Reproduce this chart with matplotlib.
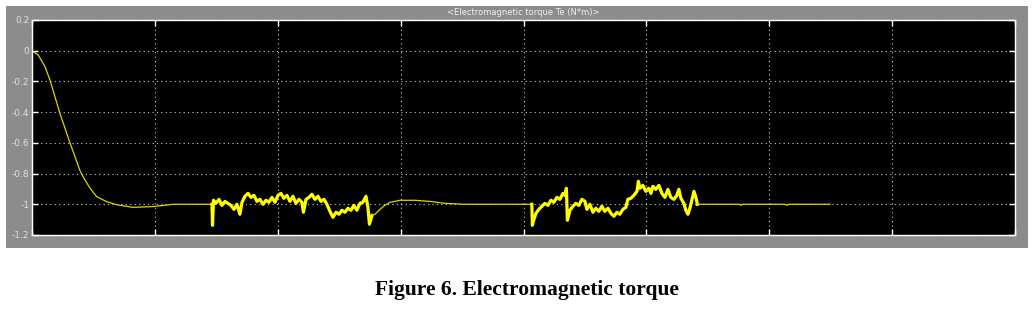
import numpy as np
import matplotlib.pyplot as plt
from matplotlib.patches import Rectangle

# Electromagnetic torque trace (time in divisions, Te in N*m)
t_start = [0.0, 0.051, 0.106, 0.146, 0.187, 0.228, 0.269, 0.309, 0.35, 0.39,
           0.431, 0.472, 0.526, 0.608, 0.69, 0.82, 0.985, 1.15, 1.465]
te_start = [0.0, -0.028, -0.104, -0.19, -0.30, -0.41, -0.505, -0.60, -0.69, -0.78,
            -0.842, -0.894, -0.95, -0.983, -1.003, -1.02, -1.015, -1.0, -1.0]

t_load1 = [1.465, 1.469, 1.477, 1.497, 1.522, 1.546, 1.570, 1.595, 1.619, 1.644,
           1.668, 1.692, 1.709, 1.733, 1.758, 1.782, 1.806, 1.831, 1.855, 1.880,
           1.904, 1.928, 1.953, 1.977, 2.002, 2.026, 2.050, 2.075, 2.099, 2.124,
           2.148, 2.173, 2.197, 2.209, 2.230, 2.254, 2.278, 2.303, 2.327, 2.352,
           2.376, 2.400, 2.425, 2.449, 2.474, 2.498, 2.522, 2.547, 2.571, 2.596,
           2.620, 2.644, 2.669, 2.693, 2.718, 2.734, 2.746, 2.767]
te_load1 = [-1.000, -1.137, -0.974, -0.994, -0.968, -1.007, -0.981, -0.994, -1.007, -1.033,
            -1.000, -1.065, -0.987, -0.948, -0.929, -0.955, -0.942, -0.981, -0.968, -1.000,
            -0.974, -0.987, -0.955, -0.987, -0.942, -0.929, -0.961, -0.942, -0.981, -0.948,
            -0.994, -0.968, -0.987, -1.052, -0.968, -0.955, -0.935, -0.968, -0.948, -0.981,
            -0.968, -1.000, -1.046, -1.085, -1.052, -1.065, -1.039, -1.052, -1.026, -1.039,
            -1.007, -1.039, -0.994, -0.987, -0.948, -1.020, -1.130, -1.072]

t_settle = [2.767, 2.791, 2.832, 2.872, 2.913, 2.954, 2.994, 3.116, 3.238, 3.360, 3.523, 4.068]
te_settle = [-1.072, -1.065, -1.033, -1.007, -0.987, -0.981, -0.974, -0.974, -0.981, -0.994, -1.0, -1.0]

t_load2 = [4.068, 4.072, 4.080, 4.101, 4.125, 4.150, 4.174, 4.199, 4.223, 4.247,
           4.272, 4.296, 4.321, 4.337, 4.349, 4.357, 4.378, 4.402, 4.426, 4.451,
           4.475, 4.500, 4.516, 4.540, 4.565, 4.589, 4.613, 4.638, 4.662, 4.687,
           4.711, 4.736, 4.760, 4.784, 4.809, 4.833, 4.849, 4.874, 4.898, 4.923,
           4.935, 4.947, 4.971, 4.996, 5.020, 5.037, 5.053, 5.077, 5.102, 5.126,
           5.151, 5.175, 5.199, 5.224, 5.248, 5.264, 5.281, 5.305, 5.321, 5.338,
           5.354, 5.370, 5.387, 5.403, 5.415]
te_load2 = [-1.000, -1.137, -1.111, -1.059, -1.033, -1.013, -0.994, -1.007, -0.974, -0.987,
            -0.955, -0.968, -0.929, -0.942, -0.896, -1.104, -1.039, -1.013, -0.994, -1.007,
            -0.968, -0.981, -1.033, -1.000, -1.052, -1.026, -1.046, -1.013, -1.046, -1.026,
            -1.059, -1.078, -1.052, -1.065, -1.033, -1.020, -0.968, -0.961, -0.942, -0.916,
            -0.850, -0.896, -0.877, -0.916, -0.896, -0.929, -0.883, -0.903, -0.877, -0.929,
            -0.955, -0.903, -0.955, -0.968, -0.942, -0.903, -0.961, -0.994, -1.039, -1.065,
            -1.026, -0.974, -0.916, -0.955, -1.000]

t_end = [5.415, 5.76, 5.769, 5.78, 6.13, 6.143, 6.155, 6.493]
te_end = [-1.0, -1.0, -1.007, -1.0, -1.0, -1.007, -1.0, -1.0]

yticks = [0.2, 0, -0.2, -0.4, -0.6, -0.8, -1, -1.2]
ytick_labels = ["0.2", "0", "-0.2", "-0.4", "-0.6", "-0.8", "-1", "-1.2"]

fig = plt.figure(figsize=(10.35, 3.09), dpi=100)
fig.patch.set_facecolor("white")

# gray scope panel behind the axes
fig.patches.append(Rectangle((0.0058, 0.1974), 0.9874, 0.7832, transform=fig.transFigure,
                             facecolor="#8c8c8c", edgecolor="none", zorder=-10))

ax = fig.add_axes([0.0309, 0.2395, 0.9498, 0.6958])
ax.set_facecolor("black")
ax.set_xlim(0, 8)
ax.set_ylim(-1.2, 0.2)

thin = "#d8d800"
bright = "#ffff00"
ax.plot(t_start, te_start, color=thin, lw=0.9)
ax.plot(t_load1, te_load1, color=bright, lw=2.3)
ax.plot(t_settle, te_settle, color=thin, lw=0.9)
ax.plot(t_load2, te_load2, color=bright, lw=2.3)
ax.plot(t_end, te_end, color=thin, lw=0.9)

ax.set_xticks(np.arange(0, 9, 1))
ax.set_xticklabels([])
ax.set_yticks(yticks)
ax.set_yticklabels(ytick_labels, fontsize=6.5)
ax.tick_params(axis="both", direction="in", colors="white", length=4, width=1,
               top=True, right=True, pad=2)
ax.tick_params(axis="y", labelcolor="#e0e0e0")
ax.grid(True, color="#c8c8c8", linestyle=(0, (1, 3)), lw=0.8)
for s in ax.spines.values():
    s.set_color("white")
    s.set_linewidth(1)

fig.text(0.5058, 0.961, "<Electromagnetic torque Te (N*m)>", ha="center", va="center",
         color="#f0f0f0", fontsize=6)

fig.text(0.5095, 0.0615, "Figure 6. Electromagnetic torque", ha="center", va="center",
         fontsize=15.5, fontweight="bold", family="Liberation Serif")

fig.savefig("out.png", dpi=100, facecolor=fig.get_facecolor())
